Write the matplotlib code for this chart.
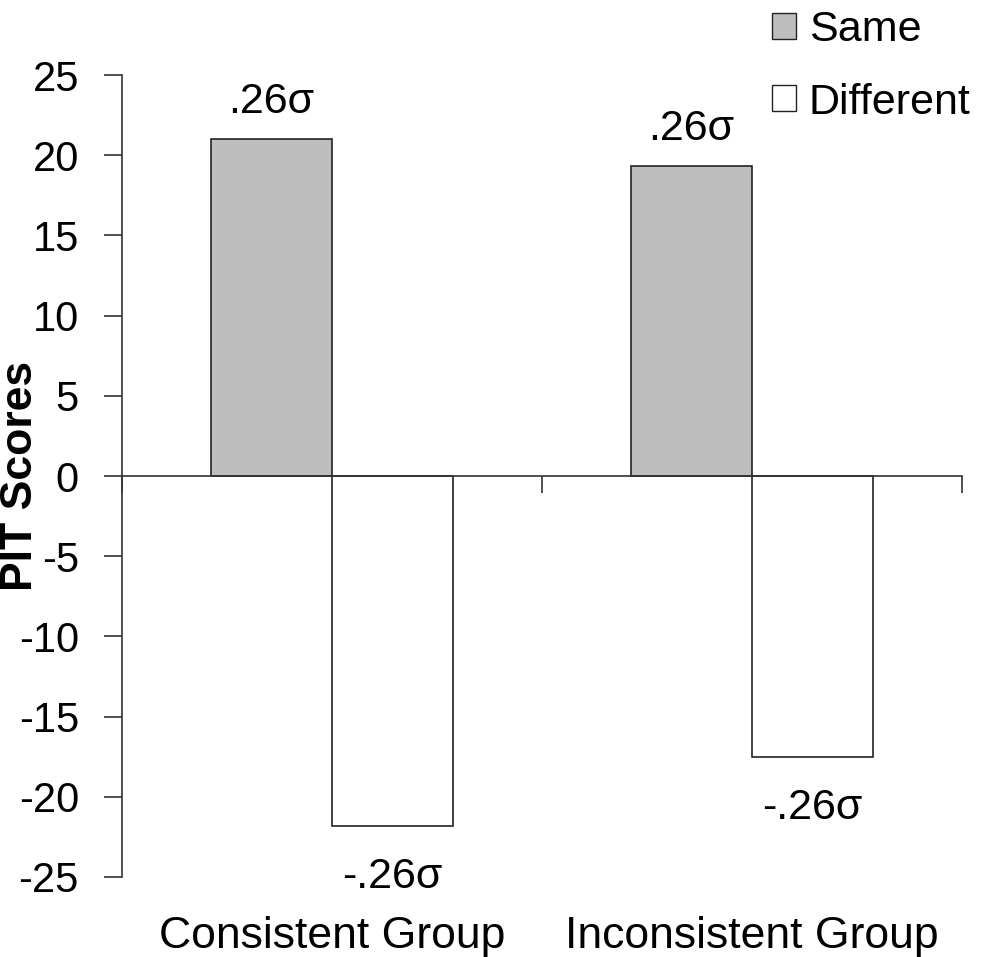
import matplotlib
matplotlib.use("Agg")
import matplotlib.pyplot as plt
from matplotlib.patches import Patch
import numpy as np

plt.rcParams['font.family'] = ['Liberation Sans', 'DejaVu Sans']
plt.rcParams['axes.unicode_minus'] = False

# data
groups = ['Consistent Group', 'Inconsistent Group']
same = [21.0, 19.3]
different = [-21.8, -17.5]
same_labels = ['.26σ', '.26σ']
diff_labels = ['-.26σ', '-.26σ']
yticks = [-25, -20, -15, -10, -5, 0, 5, 10, 15, 20, 25]

fig = plt.figure(figsize=(9.82, 9.57), dpi=100)
ax = fig.add_axes([0.1242, 0.0836, 0.8554, 0.838])

x = np.arange(len(groups)) + 0.5
w = 0.288
ax.bar(x - w / 2, same, w, color='#bebebe', edgecolor='#222222', linewidth=1.2, label='Same')
ax.bar(x + w / 2, different, w, color='white', edgecolor='#222222', linewidth=1.2, label='Different')

for xi, v, lab in zip(x - w / 2, same, same_labels):
    ax.annotate(lab, (xi, v), xytext=(0, 19), textcoords='offset points',
                ha='center', va='baseline', fontsize=31)
for xi, v, lab in zip(x + w / 2, different, diff_labels):
    ax.annotate(lab, (xi, v), xytext=(0, -45), textcoords='offset points',
                ha='center', va='baseline', fontsize=31)

# category labels under the plot
trans = ax.get_xaxis_transform()
for xi, g in zip(x, groups):
    ax.annotate(g, (xi, 0), xycoords=trans, xytext=(0, -51), textcoords='offset points',
                ha='center', va='baseline', fontsize=32)

ax.set_xlim(0, 2)
ax.set_ylim(-25, 25)
ax.set_yticks(yticks)
ax.set_xticks([0, 1, 2])
ax.set_xticklabels([])
ax.spines['top'].set_visible(False)
ax.spines['right'].set_visible(False)
ax.spines['bottom'].set_position(('data', 0))
for s in ('left', 'bottom'):
    ax.spines[s].set_linewidth(1.2)
    ax.spines[s].set_color('#333333')
ax.tick_params(axis='y', direction='out', length=13, width=1.2, pad=18, labelsize=30, color='#333333')
ax.tick_params(axis='x', direction='out', length=12, width=1.2, color='#333333')

fig.text(21 / 982, 1 - 476 / 957, 'PIT Scores', rotation=90, ha='center', va='center',
         fontsize=32, fontweight='bold')

fig.legend(handles=[Patch(facecolor='#bebebe', edgecolor='#222222', label='Same'),
                    Patch(facecolor='white', edgecolor='#222222', label='Different')],
           loc='upper left', bbox_to_anchor=(768 / 982, 1 - 6 / 957), frameon=False, fontsize=31,
           handlelength=0.55, handleheight=0.55, handletextpad=0.3, labelspacing=0.75,
           borderpad=0.1, borderaxespad=0)

fig.savefig('out.png', dpi=100)
